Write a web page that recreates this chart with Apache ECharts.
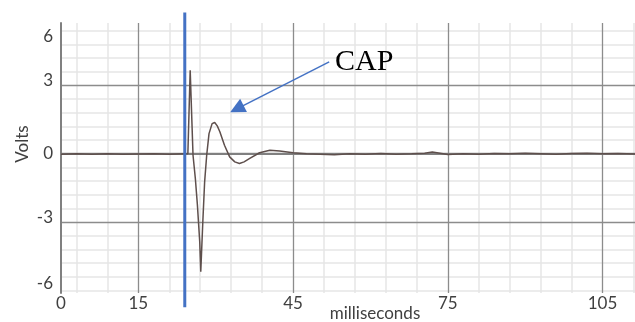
<!DOCTYPE html>
<html>
<head>
<meta charset="utf-8">
<script src="https://cdn.jsdelivr.net/npm/echarts@6/dist/echarts.min.js"></script>
<style>
  html, body { margin: 0; padding: 0; background: #fff; }
  #chart { width: 635px; height: 322px; }
</style>
</head>
<body>
<div id="chart"></div>
<script>
// recorded trace: time (ms) and voltage (V)
const timeMs = [0, 3, 6, 9, 12, 15, 18, 21, 24, 24.6, 25.05, 25.6, 26.05, 26.45, 26.9, 27.1, 27.5, 27.85, 28.25, 28.7, 29.3, 29.8, 30.3, 30.8, 31.7, 32.7, 33.7, 34.6, 35.5, 36.6, 38.5, 40.5, 42.4, 45, 47.6, 50.2, 53, 56, 59, 62, 65, 68, 70.5, 72, 73.5, 75, 78, 81, 84, 87, 90, 93, 96, 99, 102, 105, 108, 111.3];
const volts = [-0.02, 0, -0.03, 0, -0.02, -0.01, 0, -0.02, 0, 0, 3.66, -0.07, -1.09, -2.26, -3.87, -5.18, -2.99, -1.24, -0.07, 0.88, 1.32, 1.37, 1.22, 0.96, 0.37, -0.14, -0.36, -0.43, -0.36, -0.21, 0.04, 0.15, 0.12, 0.04, 0, -0.02, -0.05, 0, -0.02, 0.01, -0.02, 0, 0.02, 0.07, 0.02, -0.04, 0, -0.02, 0.01, 0, 0.02, 0, -0.02, 0.01, 0.02, 0, 0.01, -0.01];

// axis ticks
const xTickLabels = [0, 15, 45, 75, 105];
const xMajor = [15, 45, 75, 105];
const yTickLabels = ['6', '3', '0', '-3', '-6'];
const yLabelAt = [5.15, 3.2, 0, -2.8, -5.7];
const yMajor = [-3, 0, 3];

// stimulus marker and annotation
const stimulusMs = [24, 24];
const stimulusV = [6.2, -6.75];
const capArrowFrom = [52, 4.03];
const capArrowTo = [34.1, 1.97];
const capLabelAt = [58.8, 4.03];

const X_MAX = 111.3;
const Y_MIN = -6.12;
const Y_MAX = 5.74;

// minor grid every 6 ms / 0.6 V, leaving out the major lines
const xMinor = [];
for (let v = 3; v < X_MAX; v += 6) {
  if (!xMajor.includes(v)) xMinor.push(v);
}
const yMinor = [];
for (let k = -10; k <= 9; k++) {
  const v = Math.round(k * 6) / 10;
  if (!yMajor.includes(v)) yMinor.push(v);
}

const labelFont = 'Lato';
const labelColor = '#404040';

const chart = echarts.init(document.getElementById('chart'));

const option = {
  animation: false,
  grid: {
    left: 61,
    right: 0,
    top: 23,
    bottom: 29,
    containLabel: false,
    outerBoundsMode: 'none'
  },
  xAxis: [
    {
      type: 'value',
      min: 0,
      max: X_MAX,
      axisLine: { show: true, lineStyle: { color: '#808080', width: 2 } },
      axisTick: { show: false, customValues: xMajor },
      axisLabel: {
        customValues: xTickLabels,
        margin: 2,
        fontFamily: labelFont,
        fontSize: 17,
        color: labelColor
      },
      splitLine: { show: true, lineStyle: { color: '#8c8c8c', width: 1.3 } },
      name: 'milliseconds',
      nameLocation: 'middle',
      nameGap: 12,
      nameMoveOverlap: false,
      nameTextStyle: {
        fontFamily: labelFont,
        fontSize: 17,
        color: labelColor,
        verticalAlign: 'top',
        padding: [0, 0, 0, 54]
      },
      z: 1
    },
    {
      type: 'value',
      min: 0,
      max: X_MAX,
      axisLine: { show: false },
      axisTick: { show: false, customValues: xMinor },
      axisLabel: { show: false },
      splitLine: { show: true, lineStyle: { color: '#e6e6e6', width: 1.5 } },
      z: 0
    }
  ],
  yAxis: [
    {
      type: 'value',
      min: Y_MIN,
      max: Y_MAX,
      axisLine: { show: true, lineStyle: { color: '#808080', width: 2 } },
      axisTick: { show: false, customValues: yMajor },
      axisLabel: {
        customValues: yLabelAt,
        margin: 8,
        fontFamily: labelFont,
        fontSize: 17,
        color: labelColor,
        formatter: function (v) {
          let best = 0;
          yLabelAt.forEach((p, i) => {
            if (Math.abs(p - v) < Math.abs(yLabelAt[best] - v)) best = i;
          });
          return yTickLabels[best];
        }
      },
      splitLine: { show: true, lineStyle: { color: '#8c8c8c', width: 1.3 } },
      name: 'Volts',
      nameLocation: 'middle',
      nameGap: 30,
      nameRotate: 90,
      nameMoveOverlap: false,
      nameTextStyle: {
        fontFamily: labelFont,
        fontSize: 17,
        color: labelColor,
        padding: [0, 0, 0, 28]
      },
      z: 1
    },
    {
      type: 'value',
      min: Y_MIN,
      max: Y_MAX,
      axisLine: { show: false },
      axisTick: { show: false, customValues: yMinor },
      axisLabel: { show: false },
      splitLine: { show: true, lineStyle: { color: '#e6e6e6', width: 1.5 } },
      z: 0
    }
  ],
  series: [
    {
      name: 'trace',
      type: 'line',
      data: timeMs.map((t, i) => [t, volts[i]]),
      showSymbol: false,
      lineStyle: { color: '#5e4f4c', width: 1.5 },
      z: 3
    },
    {
      name: 'stimulus',
      type: 'line',
      data: stimulusMs.map((t, i) => [t, stimulusV[i]]),
      clip: false,
      showSymbol: false,
      lineStyle: { color: '#4472c4', width: 3 },
      z: 4
    },
    {
      name: 'annotation',
      type: 'line',
      data: [],
      markLine: {
        silent: true,
        symbol: ['none', 'triangle'],
        symbolSize: 15,
        lineStyle: { color: '#4472c4', width: 1.5, type: 'solid' },
        label: { show: false },
        data: [[{ coord: capArrowFrom }, { coord: capArrowTo }]]
      },
      markPoint: {
        silent: true,
        symbol: 'circle',
        symbolSize: 0,
        label: {
          show: true,
          position: 'inside',
          formatter: 'CAP',
          fontFamily: 'Liberation Serif',
          fontSize: 30,
          color: '#000'
        },
        data: [{ coord: capLabelAt }]
      },
      z: 5
    }
  ]
};

chart.setOption(option);
</script>
</body>
</html>
